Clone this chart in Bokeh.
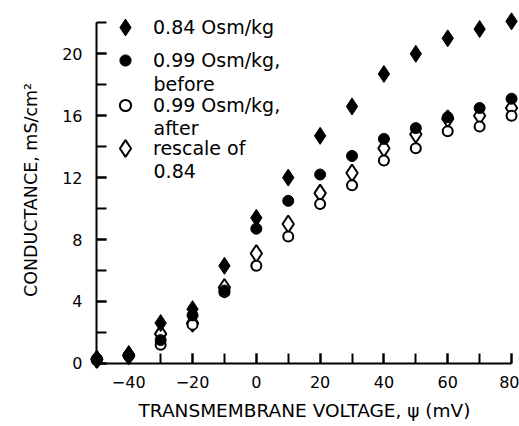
from bokeh.plotting import figure
from bokeh.models import (Range1d, FixedTicker, Legend, LegendItem, Label, LinearAxis)
from bokeh.embed import file_html
from bokeh.resources import INLINE

# ---- data ----
voltage = [-50, -40, -30, -20, -10, 0, 10, 20, 30, 40, 50, 60, 70, 80]
g_084 = [0.3, 0.6, 2.6, 3.5, 6.3, 9.4, 12.0, 14.7, 16.6, 18.7, 20.0, 21.0, 21.6, 22.1]
g_099_before = [0.3, 0.5, 1.5, 3.1, 4.7, 8.7, 10.5, 12.2, 13.4, 14.5, 15.2, 15.9, 16.5, 17.1]
g_099_after = [0.2, 0.5, 1.2, 2.5, 4.6, 6.3, 8.2, 10.3, 11.5, 13.1, 13.9, 15.0, 15.3, 16.0]
g_rescale = [0.25, 0.5, 1.9, 2.6, 4.9, 7.1, 9.0, 11.0, 12.3, 13.9, 14.8, 15.8, 16.0, 16.5]

x_major = [-40, -20, 0, 20, 40, 60, 80]
x_tick_labels = ["\u221240", "\u221220", "0", "20", "40", "60", "80"]
x_minor = [-50, -40, -30, -20, -10, 0, 10, 20, 30, 40, 50, 60, 70, 80]
y_major = [0, 4, 8, 12, 16, 20]
y_tick_labels = ["0", "4", "8", "12", "16", "20"]
y_minor = [0, 2, 4, 6, 8, 10, 12, 14, 16, 18, 20, 22]

series_labels = ["0.84 Osm/kg", "0.99 Osm/kg,", "0.99 Osm/kg,", "rescale of"]
second_lines = ["before", "after", "0.84"]

FONT = "DejaVu Sans"

p = figure(width=519, height=426, output_backend="svg", toolbar_location=None,
           x_range=Range1d(-52.3, 82.5), y_range=Range1d(-0.4, 22.8),
           min_border_left=89, min_border_right=0, min_border_top=10,
           min_border_bottom=57)
p.outline_line_color = None
p.xgrid.visible = False
p.ygrid.visible = False
p.background_fill_color = "white"
p.border_fill_color = "white"

# data glyphs (draw order: open diamonds, open circles, filled circles, filled diamonds)
r_resc = p.scatter(voltage, g_rescale, marker="diamond", size=17,
                   fill_color="white", line_color="black", line_width=2)
r_after = p.scatter(voltage, g_099_after, marker="circle", size=10,
                    fill_color="white", line_color="black", line_width=2)
r_before = p.scatter(voltage, g_099_before, marker="circle", size=11,
                     fill_color="black", line_color="black", line_width=1)
r_084 = p.scatter(voltage, g_084, marker="diamond", size=17,
                  fill_color="black", line_color="black", line_width=1)

# label axes (default axes, in the side panels): only tick labels and titles
for ax, major, labels in ((p.xaxis[0], x_major, x_tick_labels),
                          (p.yaxis[0], y_major, y_tick_labels)):
    ax.ticker = FixedTicker(ticks=major, minor_ticks=[])
    ax.major_label_overrides = {t: l for t, l in zip(major, labels)}
    ax.axis_line_color = None
    ax.major_tick_line_color = None
    ax.minor_tick_line_color = None
    ax.major_tick_in = 0
    ax.major_tick_out = 0
    ax.minor_tick_in = 0
    ax.minor_tick_out = 0
    ax.major_label_text_font = FONT
    ax.major_label_text_font_size = "16px"
    ax.major_label_text_color = "black"
    ax.axis_label_text_font = FONT
    ax.axis_label_text_font_style = "normal"
    ax.axis_label_text_color = "black"

p.xaxis[0].axis_label = "TRANSMEMBRANE VOLTAGE, \u03c8 (mV)"
p.yaxis[0].axis_label = "CONDUCTANCE, mS/cm\u00b2"
p.xaxis[0].axis_label_text_font_size = "18.5px"
p.yaxis[0].axis_label_text_font_size = "17.5px"
p.xaxis[0].major_label_standoff = 6
p.yaxis[0].major_label_standoff = 7
p.xaxis[0].axis_label_standoff = 9
p.yaxis[0].axis_label_standoff = 18

# line axes pinned at x=-50 and y=0, so markers can overlap them like the original
xline = LinearAxis(fixed_location=0, bounds=(-50, 80))
yline = LinearAxis(fixed_location=-50, bounds=(0, 22))
for ax, major, minor in ((xline, x_major, x_minor), (yline, y_major, y_minor)):
    ax.ticker = FixedTicker(ticks=major, minor_ticks=minor)
    ax.major_label_overrides = {t: "" for t in major}
    ax.major_label_text_font_size = "1px"
    ax.major_label_standoff = 0
    ax.major_tick_in = 10
    ax.major_tick_out = 0
    ax.minor_tick_in = 10
    ax.minor_tick_out = 0
    ax.axis_line_width = 2
    ax.major_tick_line_width = 2
    ax.minor_tick_line_width = 2
    ax.axis_line_color = "black"
    ax.major_tick_line_color = "black"
    ax.minor_tick_line_color = "black"
p.add_layout(xline, "below")
p.add_layout(yline, "left")

# legend: one Legend per entry so each marker sits on its first text line
legend_specs = [
    (r_084, series_labels[0], 42, 15, 7, 321),
    (r_before, series_labels[1], 28, 22, 14, 295),
    (r_after, series_labels[2], 28, 22, 14, 250),
    (r_resc, series_labels[3], 42, 15, 7, 200),
]
for rend, lab, gsz, vx, standoff, vy in legend_specs:
    lg = Legend(items=[LegendItem(label=lab, renderers=[rend])],
                location=(vx, vy), glyph_width=gsz, glyph_height=gsz,
                label_standoff=standoff, padding=0, spacing=0, margin=0,
                border_line_color=None, background_fill_alpha=0,
                label_text_font=FONT, label_text_font_size="19px",
                label_text_color="black")
    p.add_layout(lg, "center")

for txt, ys in zip(second_lines, [286, 242, 199]):
    p.add_layout(Label(x=64, y=ys, x_units="screen", y_units="screen", text=txt,
                       text_font=FONT, text_font_size="19px",
                       text_baseline="middle", text_color="black"))

open("out.html", "w").write(file_html(p, INLINE))
